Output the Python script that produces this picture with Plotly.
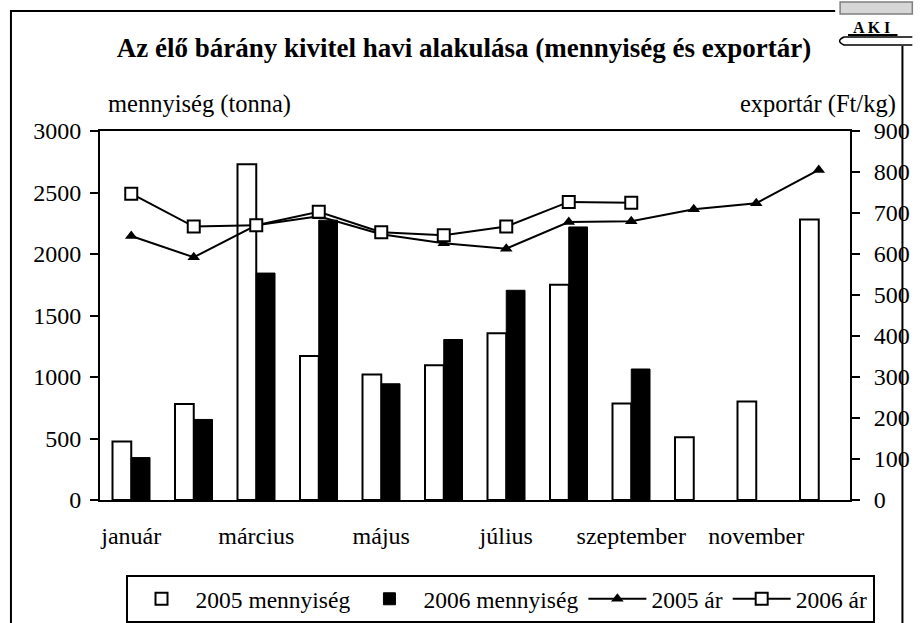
import plotly.graph_objects as go

# ---- data ----
months = ["január", "február", "március", "április", "május", "június",
          "július", "augusztus", "szeptember", "október", "november", "december"]
label_months = ["január", "március", "május", "július", "szeptember", "november"]
qty_2005 = [475, 780, 2730, 1170, 1020, 1095, 1355, 1750, 785, 510, 800, 2280]
qty_2006 = [345, 655, 1845, 2275, 945, 1305, 1705, 2220, 1065, None, None, None]
price_2005 = [644, 592, 670, 692, 648, 626, 613, 678, 680, 709, 724, 805]
price_2006 = [747, 667, 670, 703, 653, 646, 667, 727, 725, None, None, None]
left_ticks = [0, 500, 1000, 1500, 2000, 2500, 3000]
right_ticks = [0, 100, 200, 300, 400, 500, 600, 700, 800, 900]

W, H = 922, 623
ML, MR, MT, MB = 100, 64, 131, 123
PW, PH = W - ML - MR, H - MT - MB


def px(x):
    return (x - ML) / PW


def py(y):
    return (H - MB - y) / PH


FONT = "Liberation Serif, Times New Roman, serif"

fig = go.Figure()
fig.add_bar(x=months, y=qty_2005, name="2005 mennyiség",
            marker=dict(color="white", line=dict(color="black", width=2)))
fig.add_bar(x=months, y=qty_2006, name="2006 mennyiség",
            marker=dict(color="black", line=dict(color="black", width=1)))
fig.add_scatter(x=months, y=price_2005, yaxis="y2", name="2005 ár",
                mode="lines+markers", line=dict(color="black", width=2),
                marker=dict(symbol="triangle-up", size=11, color="black"))
fig.add_scatter(x=months, y=price_2006, yaxis="y2", name="2006 ár",
                mode="lines+markers", line=dict(color="black", width=2),
                marker=dict(symbol="square", size=12, color="white",
                            line=dict(color="black", width=2)))

n = len(months)
boundaries = [i - 0.5 for i in range(n + 1)]
tickfont = dict(family=FONT, size=24, color="black")

fig.update_layout(
    width=W, height=H, autosize=False,
    margin=dict(l=ML, r=MR, t=MT, b=MB),
    paper_bgcolor="white", plot_bgcolor="white",
    font=dict(family=FONT, size=24, color="black"),
    barmode="group", bargap=0.4, bargroupgap=0,
    title=dict(text="<b>Az élő bárány kivitel havi alakulása (mennyiség és exportár)</b>",
               x=464 / W, xanchor="center", y=1 - 48 / H, yanchor="middle",
               font=dict(family=FONT, size=27, color="black")),
    xaxis=dict(type="category", categoryorder="array", categoryarray=months,
               range=[-0.5, n - 0.5], tickvals=label_months, ticks="",
               showline=True, linecolor="black", linewidth=2, mirror=True,
               showgrid=False, zeroline=False, tickfont=tickfont,
               ticklabelstandoff=13),
    xaxis2=dict(overlaying="x", anchor="y", type="linear", range=[-0.5, n - 0.5],
                tickvals=boundaries, ticks="outside", ticklen=8, tickwidth=2,
                tickcolor="black", showticklabels=False, showline=False,
                showgrid=False, zeroline=False),
    xaxis3=dict(overlaying="x", anchor="y", type="linear", range=[-0.5, n - 0.5],
                tickvals=boundaries, ticks="inside", ticklen=8, tickwidth=2,
                tickcolor="black", showticklabels=False, showline=False,
                showgrid=False, zeroline=False),
    yaxis=dict(range=[0, 3000], tickvals=left_ticks, ticks="outside", ticklen=8,
               tickwidth=2, tickcolor="black", showline=True, linecolor="black",
               linewidth=2, showgrid=False, zeroline=False, tickfont=tickfont,
               ticklabelstandoff=4),
    yaxis2=dict(overlaying="y", side="right", anchor="x", range=[0, 900],
                tickvals=right_ticks, ticks="outside", ticklen=8, tickwidth=2,
                tickcolor="black", showline=True, linecolor="black", linewidth=2,
                showgrid=False, zeroline=False, tickfont=tickfont,
                ticklabelstandoff=9),
    yaxis3=dict(overlaying="y", side="left", anchor="x", range=[0, 3000],
                tickvals=left_ticks, ticks="inside", ticklen=7, tickwidth=2,
                tickcolor="black", showticklabels=False, showline=False,
                showgrid=False, zeroline=False),
    yaxis4=dict(overlaying="y", side="right", anchor="x", range=[0, 900],
                tickvals=right_ticks, ticks="inside", ticklen=7, tickwidth=2,
                tickcolor="black", showticklabels=False, showline=False,
                showgrid=False, zeroline=False),
    legend=dict(orientation="h", xref="container", yref="container",
                x=500 / W, xanchor="center", y=1 - 575 / H, yanchor="top",
                bordercolor="black", borderwidth=2,
                bgcolor="white", font=dict(family=FONT, size=23.5, color="black"),
                itemwidth=58, tracegroupgap=0, traceorder="normal"),
    showlegend=True,
)

# axis titles
fig.add_annotation(text="mennyiség (tonna)", xref="paper", yref="paper",
                   x=px(106), y=py(104), xanchor="left", yanchor="middle",
                   showarrow=False, font=dict(family=FONT, size=24.5, color="black"))
fig.add_annotation(text="exportár (Ft/kg)", xref="paper", yref="paper",
                   x=px(907), y=py(104), xanchor="right", yanchor="middle",
                   showarrow=False, font=dict(family=FONT, size=24.5, color="black"))

# outer chart border
fig.add_shape(type="rect", xref="paper", yref="paper",
              x0=px(10), x1=px(911), y0=py(660), y1=py(11),
              line=dict(color="black", width=2), fillcolor="rgba(0,0,0,0)", layer="below")

# AKI logo (approximation)
fig.add_shape(type="rect", xref="paper", yref="paper",
              x0=px(843), x1=px(922), y0=py(46), y1=py(0),
              line=dict(width=0), fillcolor="white")
fig.add_shape(type="rect", xref="paper", yref="paper",
              x0=px(848), x1=px(921), y0=py(14), y1=py(2),
              line=dict(color="#7f7f7f", width=1.5), fillcolor="#d6d6d6")
fig.add_annotation(text="<b>A K I</b>", xref="paper", yref="paper",
                   x=px(880), y=py(27), xanchor="center", yanchor="middle",
                   showarrow=False, font=dict(family=FONT, size=16, color="black"))
fig.add_shape(type="line", xref="paper", yref="paper",
              x0=px(856), x1=px(906), y0=py(35), y1=py(35),
              line=dict(color="black", width=2))
fig.add_shape(type="path", xref="paper", yref="paper",
              path=(f"M {px(921)} {py(37)} L {px(852)} {py(37)} "
                    f"Q {px(843)} {py(41)} {px(852)} {py(45)} L {px(921)} {py(45)}"),
              line=dict(color="black", width=1.5), fillcolor="rgba(0,0,0,0)")

fig.write_html("out.html", config={"displayModeBar": False},
               post_script="document.body.style.margin='0';")
